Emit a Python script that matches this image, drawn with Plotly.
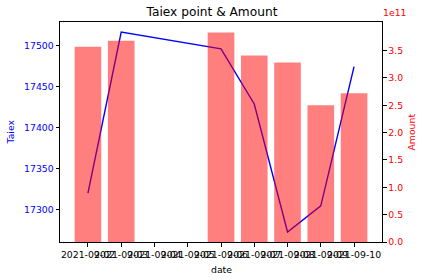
import plotly.graph_objects as go
import pandas as pd

dates = ["2021-09-02", "2021-09-03", "2021-09-06", "2021-09-07",
         "2021-09-08", "2021-09-09", "2021-09-10"]
taiex = [17319.8, 17516.9, 17496.3, 17428.9, 17272.3, 17304.3, 17474.6]
amount = [3.57e11, 3.68e11, 3.83e11, 3.41e11, 3.28e11, 2.50e11, 2.72e11]

x_ticks = pd.date_range("2021-09-02", "2021-09-10", freq="D")
x_ticklabels = [d.strftime("%Y-%m-%d") for d in x_ticks]
left_ticks = [17300, 17350, 17400, 17450, 17500]
right_ticks = [0.0, 0.5, 1.0, 1.5, 2.0, 2.5, 3.0, 3.5]

font = "DejaVu Sans"
fs = 9.3

fig = go.Figure()
fig.add_trace(go.Scatter(x=dates, y=taiex, mode="lines",
                         line=dict(color="blue", width=1.4), yaxis="y"))
fig.add_trace(go.Bar(x=dates, y=amount, width=0.8 * 86400000,
                     marker=dict(color="rgba(255,0,0,0.5)", line=dict(width=0)),
                     yaxis="y2"))

lo = min(taiex); hi = max(taiex); pad = (hi - lo) * 0.05
amax = max(amount) * 1.05

fig.update_layout(
    width=424, height=280,
    margin=dict(l=60, r=42, t=22, b=38),
    paper_bgcolor="white", plot_bgcolor="white",
    showlegend=False,
    font=dict(family=font, size=fs, color="black"),
    title=dict(text="Taiex point & Amount", x=0.5, xanchor="center",
               y=1 - 12 / 280, yanchor="middle",
               font=dict(size=12.2, family=font, color="black")),
    xaxis=dict(type="date",
               range=["2021-09-01 03:50", "2021-09-10 20:10"],
               tickmode="array", tickvals=list(x_ticks), ticktext=x_ticklabels,
               tickangle=0, ticks="outside", ticklen=3.5, tickcolor="black",
               showline=True, linecolor="black", linewidth=1, mirror=True,
               showgrid=False, zeroline=False,
               tickfont=dict(size=fs, color="black")),
    yaxis=dict(range=[lo - pad, hi + pad],
               tickmode="array", tickvals=left_ticks,
               ticktext=[str(v) for v in left_ticks],
               ticks="outside", ticklen=3.5, tickcolor="black",
               showline=True, linecolor="black", linewidth=1,
               showgrid=False, zeroline=False,
               tickfont=dict(size=fs, color="blue")),
    yaxis2=dict(overlaying="y", side="right", range=[0, amax],
                tickmode="array", tickvals=[v * 1e11 for v in right_ticks],
                ticktext=[f"{v:.1f}" for v in right_ticks],
                ticks="outside", ticklen=3.5, tickcolor="black",
                showline=True, linecolor="black", linewidth=1,
                showgrid=False, zeroline=False,
                tickfont=dict(size=fs, color="red")),
    annotations=[
        dict(text="Taiex", xref="paper", yref="paper", x=0, y=0.5,
             xshift=-43, xanchor="right", textangle=-90, showarrow=False,
             font=dict(size=fs, color="blue")),
        dict(text="Amount", xref="paper", yref="paper", x=1, y=0.5,
             xshift=21, xanchor="left", textangle=-90, showarrow=False,
             font=dict(size=fs, color="red")),
        dict(text="date", xref="paper", yref="paper", x=0.5, y=0,
             yshift=-27, yanchor="middle", showarrow=False,
             font=dict(size=fs, color="black")),
        dict(text="1e11", xref="paper", yref="paper", x=1, y=1,
             xanchor="right", yanchor="bottom", xshift=27, yshift=2,
             showarrow=False, font=dict(size=fs, color="red")),
    ],
)

fig.write_html("out.html")
